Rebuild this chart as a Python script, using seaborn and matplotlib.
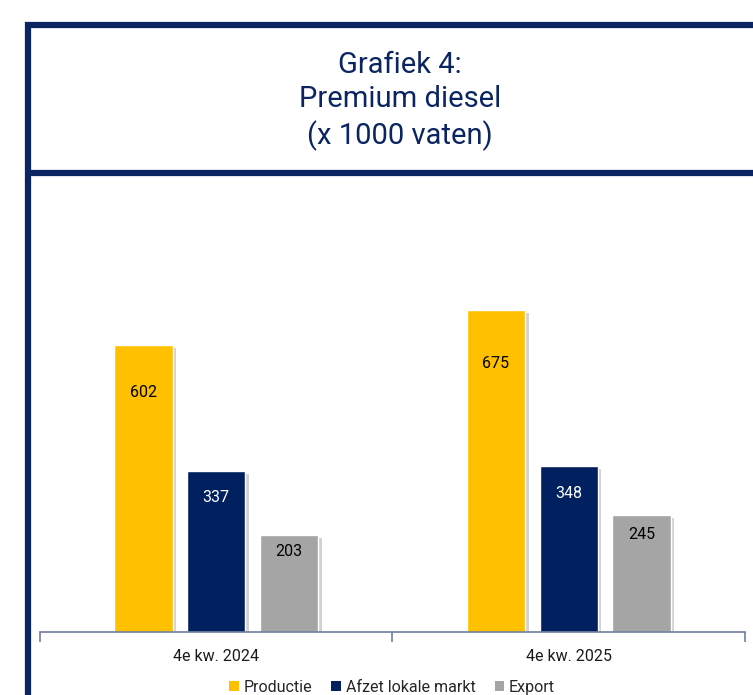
import pandas as pd
import matplotlib
matplotlib.use("Agg")
import matplotlib.pyplot as plt
import matplotlib.patheffects as pe
from matplotlib.lines import Line2D
from matplotlib.patches import Patch
import seaborn as sns

# data
periodes = ["4e kw. 2024", "4e kw. 2025"]
reeksen = ["Productie", "Afzet lokale markt", "Export"]
productie = [602, 675]
afzet = [337, 348]
export = [203, 245]

kleuren = ["#FFC000", "#002060", "#A5A5A5"]
label_kleuren = ["black", "white", "black"]
navy = "#0B2462"

df = pd.DataFrame({
    "periode": periodes * 3,
    "reeks": [r for r in reeksen for _ in periodes],
    "waarde": productie + afzet + export,
})

sns.set_style("white")
plt.rcParams["font.family"] = ["Roboto", "DejaVu Sans"]

fig = plt.figure(figsize=(7.53, 6.95), dpi=100)
ax = fig.add_axes([40 / 753, 63 / 695, 705 / 753, 429 / 695])

sns.barplot(data=df, x="periode", y="waarde", hue="reeks", hue_order=reeksen,
            palette=kleuren, width=0.62, gap=0.2, legend=False, ax=ax,
            saturation=1)

# bar shadows
for p in ax.patches:
    p.set_path_effects([pe.SimplePatchShadow(offset=(2.5, -2), shadow_rgbFace="#7f7f7f", alpha=0.35),
                        pe.Normal()])

# value labels
for cont, kl in zip(ax.containers, label_kleuren):
    for bar in cont:
        h = bar.get_height()
        ax.text(bar.get_x() + bar.get_width() / 2, h * 0.835, f"{int(h)}",
                ha="center", va="center", color=kl, fontsize=11.5)

ax.set_xlim(-0.5, 1.5)
ax.set_ylim(0, 900)
ax.set_xlabel("")
ax.set_ylabel("")
ax.set_yticks([])
for s in ["top", "right", "left"]:
    ax.spines[s].set_visible(False)
ax.spines["bottom"].set_color("#6F7F9C")
ax.spines["bottom"].set_linewidth(1.2)
ax.set_xticks([0, 1])
ax.set_xticklabels(periodes, fontsize=11.5, color="#1a1a1a")
ax.tick_params(axis="x", which="major", length=0, pad=12)
ax.set_xticks([-0.5, 0.5, 1.5], minor=True)
ax.tick_params(axis="x", which="minor", bottom=True, length=7, width=1.2,
               color="#6F7F9C", direction="out")

# title
fig.text(400 / 753, 1 - 101 / 695, "Grafiek 4:\nPremium diesel\n(x 1000 vaten)",
         ha="center", va="center", fontsize=21, color=navy, linespacing=1.3)

# frame lines
lw = 4.5
fig.add_artist(Line2D([28 / 753, 28 / 753], [0, 1 - 22 / 695], color=navy, lw=lw,
                      transform=fig.transFigure, solid_capstyle="butt"))
fig.add_artist(Line2D([25 / 753, 1], [1 - 25 / 695, 1 - 25 / 695], color=navy, lw=lw,
                      transform=fig.transFigure, solid_capstyle="butt"))
fig.add_artist(Line2D([25 / 753, 1], [1 - 173 / 695, 1 - 173 / 695], color=navy, lw=lw,
                      transform=fig.transFigure, solid_capstyle="butt"))

# legend
handles = [Patch(facecolor=c, edgecolor="none", label=r) for c, r in zip(kleuren, reeksen)]
fig.legend(handles=handles, loc="lower center", bbox_to_anchor=(392 / 753, -0.02), ncol=3,
           frameon=False, fontsize=11.5, handlelength=0.6, handleheight=0.6,
           handletextpad=0.3, columnspacing=1.2)

fig.savefig("out.png", dpi=100)
